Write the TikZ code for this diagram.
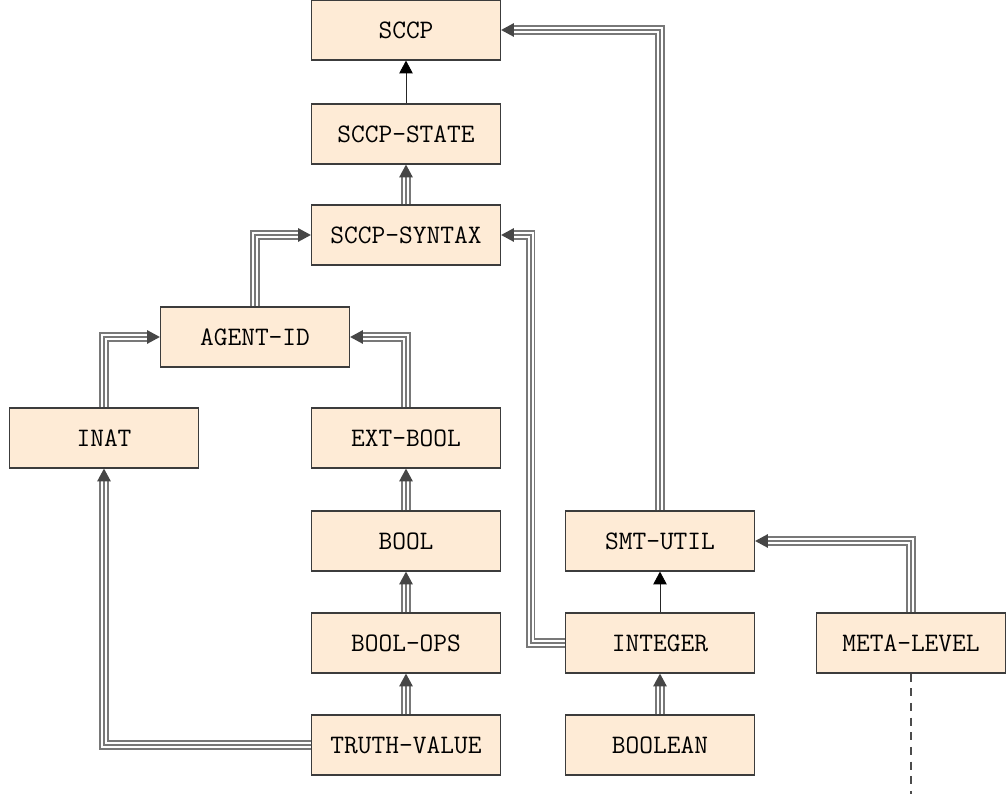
\documentclass[tikz,border=0pt]{standalone}
\usetikzlibrary{arrows.meta}
\definecolor{boxfill}{RGB}{254,235,214}
\definecolor{boxdraw}{RGB}{60,60,60}
\definecolor{lgray}{RGB}{120,120,120}
\definecolor{tipgray}{RGB}{70,70,70}
\begin{document}
\begin{tikzpicture}[x=0.75pt,y=-0.75pt,
  modbox/.style={draw=boxdraw,fill=boxfill,line width=0.9pt,minimum width=141.75pt,minimum height=45pt,inner sep=0pt,
    font=\fontsize{20}{24}\selectfont\ttfamily},
  incl/.style={draw=none,
    postaction={draw=lgray,line width=6.8pt,shorten >=9pt},
    postaction={draw=white,line width=4.8pt,shorten >=9pt},
    postaction={draw=lgray,line width=1pt,-{Triangle[length=9.5pt,width=10pt,fill=tipgray,color=tipgray]}}},
  prot/.style={draw=black!85,line width=0.6pt,-{Triangle[length=9.5pt,width=10pt,fill=black,color=black]}},
  metal/.style={draw=black!70,line width=0.8pt,dashed,dash pattern=on 6pt off 5pt}]
\useasboundingbox (0,0) rectangle (1008,798);
\node[modbox] (sccp) at (406,30) {SCCP};
\node[modbox] (state) at (406,134) {SCCP-STATE};
\node[modbox] (syntax) at (406,235) {SCCP-SYNTAX};
\node[modbox] (agent) at (255,337) {AGENT-ID};
\node[modbox] (inat) at (104,438) {INAT};
\node[modbox] (extbool) at (406,438) {EXT-BOOL};
\node[modbox] (bool) at (406,541) {BOOL};
\node[modbox] (boolops) at (406,643) {BOOL-OPS};
\node[modbox] (truth) at (406,745) {TRUTH-VALUE};
\node[modbox] (smt) at (660,541) {SMT-UTIL};
\node[modbox] (integer) at (660,643) {INTEGER};
\node[modbox] (boolean) at (660,745) {BOOLEAN};
\node[modbox] (meta) at (911,643) {META-LEVEL};
\coordinate (metaend) at (911,794);

\draw[prot] (state) -- (sccp);
\draw[incl] (syntax) -- (state);
\draw[incl] (agent.north) |- (syntax.west);
\draw[incl] (inat.north) |- (agent.west);
\draw[incl] (extbool.north) |- (agent.east);
\draw[incl] (bool) -- (extbool);
\draw[incl] (boolops) -- (bool);
\draw[incl] (truth) -- (boolops);
\draw[incl] (truth.west) -| (inat.south);
\draw[incl] (integer.west) -- ++(-34,0) |- (syntax.east);
\draw[prot] (integer) -- (smt);
\draw[incl] (boolean) -- (integer);
\draw[incl] (smt.north) |- (sccp.east);
\draw[incl] (meta.north) |- (smt.east);
\draw[metal] (meta.south) -- (metaend);
\end{tikzpicture}
\end{document}
